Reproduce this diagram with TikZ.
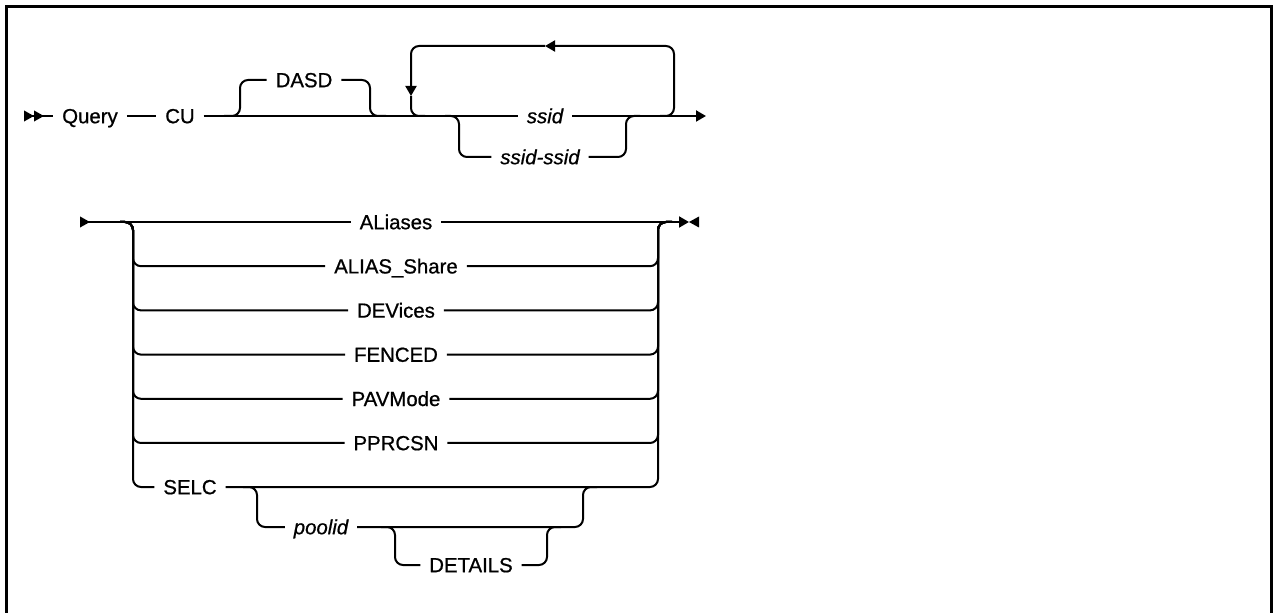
\documentclass[tikz,border=0pt]{standalone}
\usepackage{fontspec}
\setmainfont{Liberation Sans}[FakeBold=0.8]
\usetikzlibrary{arrows.meta}
\tikzset{
  railhead/.tip={Triangle[length=2mm, width=2.2mm]},
  railback/.tip={Triangle[reversed, length=2mm, width=2.1mm]},
}
\begin{document}
\begin{tikzpicture}[x=0.2mm, y=-0.2mm, line width=0.4mm, >=railhead,
  font=\fontsize{11.6}{13}\selectfont,
  kw/.style={inner xsep=1.6mm, inner ysep=0pt, text height=8.2pt, text depth=0pt},
  var/.style={kw, font=\fontsize{11.6}{13}\selectfont\itshape},
  rail/.style={rounded corners=1.6mm}]
\useasboundingbox (0,0) rectangle (1274,613);
% frame, open at the bottom
\draw[line width=0.6mm] (6.5,640) -- (6.5,6.5) -- (1271.5,6.5) -- (1271.5,640);
% first line: Query CU [DASD] ssid...
\coordinate (start) at (24,116);
\coordinate (end1) at (706,116);
\node[kw] (query) at (90,116) {Query};
\node[kw] (cu) at (180,116) {CU};
\node[kw] (dasd) at (304,80) {DASD};
\node[var] (ssid) at (545,116) {ssid};
\node[var] (range) at (540,157) {ssid-ssid};
\draw[{railback[]railback[]}-] (start) -- (query);
\draw (query) -- (cu);
\draw (cu) -- (ssid);
\draw[->] (ssid) -- (end1);
\draw[rail] (224,116) -| (240,80) -- (dasd.west);
\draw[rail] (dasd.east) -| (370,116) -- (386,116);
% repeat loop
\draw[rail,->] (660,116) -| (674,46) -- (545,46);
\draw[rail,->] (545,46) -| (411,96);
\draw[rail] (411,96) |- (425,116);
\draw[rail] (445,116) -| (459,157) -- (range.west);
\draw[rail] (range.east) -| (626,116) -- (640,116);
% second line: one of the options
\coordinate (start2) at (80,222);
\coordinate (end2) at (689,222);
\node[kw] (ch1) at (396,222) {ALiases};
\draw[{railback[]}-] (start2) -- (ch1);
\draw[->] (ch1) -- (end2);
\fill (end2) -- ++(10,-5.5) -- ++(0,11) -- cycle;
\foreach \lab [count=\i from 2] in {ALIAS\_Share, DEVices, FENCED, PAVMode, PPRCSN} {
  \pgfmathsetmacro{\y}{222+44.2*(\i-1)}
  \node[kw] (ch\i) at (396,\y) {\lab};
  \draw[rail] (120,222) -| (133,\y) -- (ch\i.west);
  \draw[rail] (ch\i.east) -| (658,222) -- (672,222);
}
\node[kw] (selc) at (190,487) {SELC};
\node[var] (poolid) at (321,527) {poolid};
\node[kw] (details) at (471,565) {DETAILS};
\draw[rail] (120,222) -| (133,487) -- (selc.west);
\draw[rail] (selc.east) -| (658,222) -- (672,222);
\draw[rail] (243,487) -| (257,527) -- (poolid.west);
\draw[rail] (poolid.east) -| (583,487) -- (597,487);
\draw[rail] (381,527) -| (395,565) -- (details.west);
\draw[rail] (details.east) -| (547,527) -- (561,527);
\end{tikzpicture}
\end{document}
